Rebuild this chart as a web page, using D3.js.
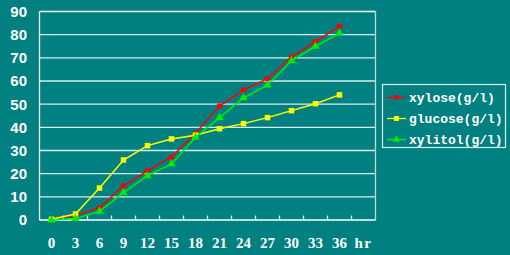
<!DOCTYPE html>
<html><head><meta charset="utf-8">
<script src="https://cdn.jsdelivr.net/npm/d3@7"></script>
<style>html,body{margin:0;padding:0;background:#008080;overflow:hidden}</style>
</head><body><svg id="c" width="510" height="255"></svg>
<script>
const categories = ["0","3","6","9","12","15","18","21","24","27","30","33","36","hr"];
const xylose  = [0.5, 2.0, 5.3, 14.7, 21.2, 27.2, 37.4, 49.2, 56.1, 61.0, 70.4, 77.0, 83.6];
const glucose = [0.3, 2.6, 13.8, 25.9, 32.1, 35.0, 36.6, 39.4, 41.6, 44.2, 47.2, 50.2, 54.0];
const xylitol = [0.0, 0.6, 3.7, 11.8, 19.1, 24.2, 35.7, 44.2, 52.7, 58.2, 68.7, 75.0, 80.7];
const yTicks = [0,10,20,30,40,50,60,70,80,90];
const seriesNames = ["xylose(g/l)","glucose(g/l)","xylitol(g/l)"];

const svg = d3.select("#c");
const L=39.5, R=375.5, T=11.5, B=220;
const x = d3.scaleBand().domain(categories).range([L,R]);
const y = d3.scaleLinear().domain([0,90]).range([B,T]);
const cx = c => x(c) + x.bandwidth()/2;

// gridlines
svg.append("g").selectAll("line").data(yTicks.slice(1,-1)).join("line")
  .attr("x1",L).attr("x2",R).attr("y1",d=>y(d)).attr("y2",d=>y(d))
  .attr("stroke","#d8ecec").attr("stroke-width",1.3);

// frame
svg.append("line").attr("x1",L).attr("x2",R).attr("y1",T).attr("y2",T).attr("stroke","#ffffff").attr("stroke-width",1.3);
svg.append("line").attr("x1",R).attr("x2",R).attr("y1",T).attr("y2",B).attr("stroke","#c8d8d8").attr("stroke-width",1.3);
svg.append("line").attr("x1",L).attr("x2",L).attr("y1",T).attr("y2",B).attr("stroke","#ffffff").attr("stroke-width",1.3);
svg.append("line").attr("x1",L).attr("x2",R).attr("y1",B).attr("y2",B).attr("stroke","#ffffff").attr("stroke-width",1.5);

// x ticks (between categories, inward)
svg.append("g").selectAll("line").data(categories.slice(1)).join("line")
  .attr("x1",d=>x(d)).attr("x2",d=>x(d)).attr("y1",B).attr("y2",B-4.5)
  .attr("stroke","#e8f4f4").attr("stroke-width",1.3);

// y labels
svg.append("g").selectAll("text").data(yTicks).join("text")
  .attr("x",27).attr("y",d=>y(d)).attr("dy","0.36em").attr("text-anchor","end")
  .attr("fill","#ffffff").attr("font-family","'Liberation Sans',Arial,sans-serif")
  .attr("font-weight","bold").attr("font-size","15px").text(d=>d);

// x labels
svg.append("g").selectAll("text").data(categories).join("text")
  .attr("x",d=>cx(d)).attr("y",248).attr("text-anchor","middle")
  .attr("fill","#ffffff").attr("font-family","'Liberation Serif',serif")
  .attr("font-weight","bold").attr("font-size","15px")
  .attr("letter-spacing",d=>d==="hr"?"1.5px":null).text(d=>d);

const series = [
  {name:seriesNames[0], vals:xylose, color:"#ff0000", sym:d3.symbolCircle, size:24},
  {name:seriesNames[1], vals:glucose, color:"#ffff00", sym:d3.symbolSquare, size:30},
  {name:seriesNames[2], vals:xylitol, color:"#00ee00", sym:d3.symbolTriangle, size:30}
];
const line = d3.line().x((d,i)=>cx(categories[i])).y(d=>y(d));
series.forEach(s=>{
  svg.append("path").datum(s.vals).attr("d",line).attr("fill","none")
    .attr("stroke",s.color).attr("stroke-width",1.5);
  svg.append("g").selectAll("path").data(s.vals).join("path")
    .attr("transform",(d,i)=>`translate(${cx(categories[i])},${y(d)})`)
    .attr("d",d3.symbol().type(s.sym).size(s.size)).attr("fill",s.color);
});

// legend
const lg = svg.append("g");
lg.append("rect").attr("x",382.5).attr("y",84.5).attr("width",123).attr("height",63)
  .attr("fill","none").attr("stroke","#e0eeee").attr("stroke-width",1.2);
const ly = [97.5,118.5,139.5];
series.forEach((s,i)=>{
  lg.append("line").attr("x1",387).attr("x2",406).attr("y1",ly[i]).attr("y2",ly[i])
    .attr("stroke",s.color).attr("stroke-width",1.3);
  lg.append("path").attr("transform",`translate(396.5,${ly[i]})`)
    .attr("d",d3.symbol().type(s.sym).size(s.size*0.8)).attr("fill",s.color);
  lg.append("text").attr("x",409).attr("y",ly[i]).attr("dy","0.35em")
    .attr("fill","#ffffff").attr("font-family","'Liberation Mono',monospace")
    .attr("font-weight","bold").attr("font-size","13px").text(s.name);
});
</script></body></html>
